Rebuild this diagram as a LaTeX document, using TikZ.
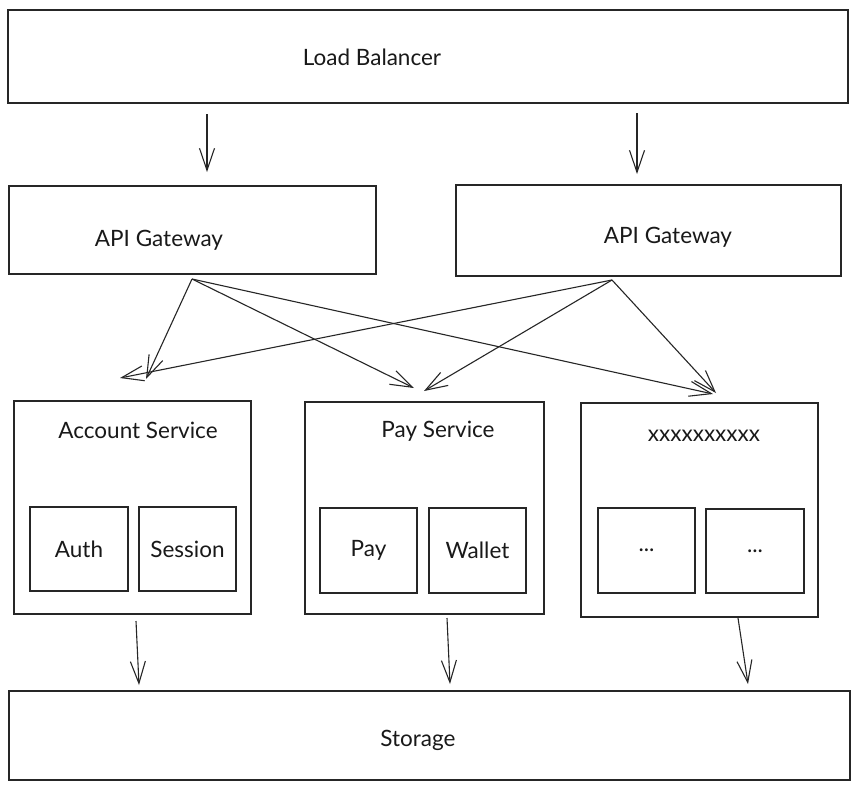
\documentclass[tikz,border=0pt]{standalone}
\usepackage{fontspec}
\setmainfont{Lato}
\usetikzlibrary{arrows.meta}
\tikzset{
  box/.style={draw=black!85, line width=1.3pt, rectangle, inner sep=0pt, fill=white},
  lbl/.style={font=\fontsize{22.5}{26}\selectfont, text=black!90, inner sep=0pt},
  arr/.style={draw=black!85, line width=1.1pt, -{Straight Barb[length=22pt,width=15pt,line width=1.1pt]}},
}
\begin{document}
\begin{tikzpicture}[x=1pt,y=-1pt]
\useasboundingbox[fill=white] (0,0) rectangle (858,790);
% boxes
\node[box, minimum width=840pt, minimum height=93pt] (lb) at (428,56.5) {};
\node[box, minimum width=367pt, minimum height=88pt] (gw1) at (192.5,230) {};
\node[box, minimum width=385pt, minimum height=91pt] (gw2) at (648.5,230.5) {};
\node[box, minimum width=237pt, minimum height=213pt] (acc) at (132.5,507.5) {};
\node[box, minimum width=239pt, minimum height=212pt] (pay) at (424.5,508) {};
\node[box, minimum width=237pt, minimum height=214pt] (xs) at (699.5,510) {};
\node[box, minimum width=841pt, minimum height=89pt] (st) at (429.5,735.5) {};
% inner boxes
\node[box, lbl, minimum width=98pt, minimum height=84pt] (auth) at (79,549) {Auth};
\node[box, lbl, minimum width=97pt, minimum height=84pt] (sess) at (187.5,549) {Session};
\node[box, lbl, minimum width=97pt, minimum height=85pt] (payi) at (368.5,550.5) {Pay};
\node[box, lbl, minimum width=97pt, minimum height=85pt] (wal) at (477.5,550.5) {Wallet};
\node[box, lbl, minimum width=97pt, minimum height=85pt] (d1) at (646.5,550.5) {...};
\node[box, lbl, minimum width=98pt, minimum height=84pt] (d2) at (755,551) {...};
% labels
\node[lbl] (lbt) at (372,57) {Load Balancer};
\node[lbl] (gw1t) at (159,240) {API Gateway};
\node[lbl] (gw2t) at (668,237) {API Gateway};
\node[lbl] (acct) at (138,430) {Account Service};
\node[lbl] (payt) at (438,431) {Pay Service};
\node[lbl] (xst) at (704,436) {xxxxxxxxxx};
\node[lbl] (stt) at (418,740) {Storage};
% connector coordinates
\coordinate (lbo1) at (207,114);
\coordinate (gwi1) at (207,172);
\coordinate (lbo2) at (637,113);
\coordinate (gwi2) at (637,174);
\coordinate (g1o) at (192,279);
\coordinate (g2o) at (612,280);
\coordinate (acci1) at (146,379);
\coordinate (acci2) at (120,378);
\coordinate (payi1) at (414,388);
\coordinate (payi2) at (424,391);
\coordinate (xsi1) at (713,394);
\coordinate (xsi2) at (716,393);
\coordinate (acco) at (136,621);
\coordinate (sti1) at (139,685);
\coordinate (payo) at (447,618);
\coordinate (sti2) at (450,684);
\coordinate (xso) at (738,618);
\coordinate (sti3) at (748,684);
% connectors
\draw[arr] (lbo1) -- (gwi1);
\draw[arr] (lbo2) -- (gwi2);
\draw[arr] (g1o) -- (acci1);
\draw[arr] (g1o) -- (payi1);
\draw[arr] (g1o) -- (xsi1);
\draw[arr] (g2o) -- (acci2);
\draw[arr] (g2o) -- (payi2);
\draw[arr] (g2o) -- (xsi2);
\draw[arr] (acco) -- (sti1);
\draw[arr] (payo) -- (sti2);
\draw[arr] (xso) -- (sti3);
\end{tikzpicture}
\end{document}
